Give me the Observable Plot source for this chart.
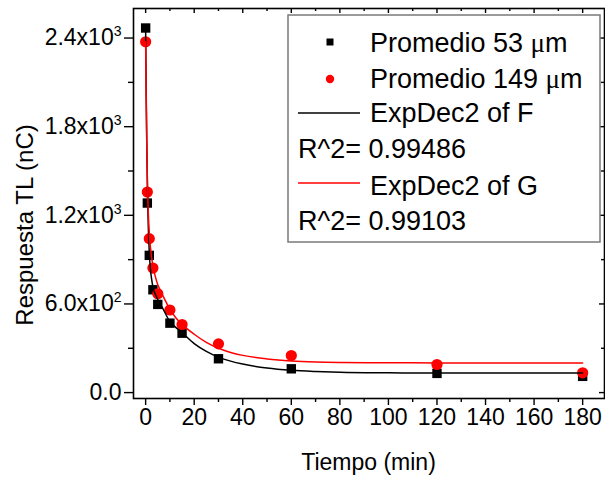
<!DOCTYPE html>
<html><head><meta charset="utf-8">
<script src="https://cdn.jsdelivr.net/npm/d3@7"></script>
<script src="https://cdn.jsdelivr.net/npm/@observablehq/plot@0.6"></script>
<style>
body{margin:0;background:#fff}
#chart{position:relative;width:605px;height:477px}
</style>
</head><body><div id="chart"></div>
<script>
// ---- data ----
const timeMin  = [0, 0.7, 1.5, 3, 5, 10, 15, 30, 60, 120, 180];
const prom53   = [2468, 1283, 929, 696, 597, 470, 402, 229, 161, 130, 110];
const prom149  = [2375, 1358, 1042, 843, 669, 559, 461, 330, 251, 190, 134];

// fitted curves (ExpDec2)
const fitX = [0, 0.25, 0.5, 0.75, 1, 1.5, 2, 2.5, 3, 4, 5, 6, 7, 10, 12.5, 15, 20, 25, 30, 35, 40, 50, 60, 70, 80, 100, 120, 150, 180];
const fitF = [2460, 2000, 1650, 1380, 1180, 950, 830, 765, 715, 665, 630, 600, 572, 480, 440, 405, 332, 279, 240, 213, 193, 166, 151, 143, 138, 134, 132, 132, 132];
const fitG = [2375, 1950, 1640, 1410, 1260, 1080, 980, 910, 860, 785, 730, 695, 660, 565, 505, 462, 395, 340, 300, 272, 252, 228, 214, 207, 204, 202, 201, 200, 200];

const xTicks = [0, 20, 40, 60, 80, 100, 120, 140, 160, 180];
const xMinor = [10, 30, 50, 70, 90, 110, 130, 150, 170];
const yTicks = [0, 600, 1200, 1800, 2400];
const yTickLabels = ["0.0", "6.0x10|2", "1.2x10|3", "1.8x10|3", "2.4x10|3"];
const yMinor = [300, 900, 1500, 2100];

const seriesNames = ["Promedio 53 ", "Promedio 149 "];
const fitNames = ["ExpDec2 of F", "ExpDec2 of G"];
const r2Labels = ["R^2= 0.99486", "R^2= 0.99103"];
const xTitle = "Tiempo (min)";
const yTitle = "Respuesta TL (nC)";

// ---- build tables ----
const pts53 = timeMin.map((t, i) => ({t, v: prom53[i]}));
const pts149 = timeMin.map((t, i) => ({t, v: prom149[i]}));
const curveF = fitX.map((t, i) => ({t, v: fitF[i]}));
const curveG = fitX.map((t, i) => ({t, v: fitG[i]}));

const W = 605, H = 477, mL = 133, mR = 1, mT = 8, mB = 79;
const fw = W - mL - mR, fh = H - mT - mB;
const FONT = "'Liberation Sans', Arial, sans-serif";

const plot = Plot.plot({
  width: W, height: H,
  marginLeft: mL, marginRight: mR, marginTop: mT, marginBottom: mB,
  style: {fontFamily: FONT, fontSize: "23px", color: "black", background: "white"},
  x: {domain: [-5, 189], label: null},
  y: {domain: [-40, 2600], label: null},
  marks: [
    // minor ticks (outside, bottom / left)
    Plot.axisX({ticks: xMinor, tickSize: 4, strokeWidth: 1.4, tickFormat: () => ""}),
    Plot.axisY({ticks: yMinor, tickSize: 5, strokeWidth: 1.4, tickFormat: () => ""}),
    // major ticks and labels
    Plot.axisX({ticks: xTicks, tickSize: 7, tickPadding: 3, strokeWidth: 1.4, tickFormat: d => String(d), fontSize: 23}),
    Plot.axisY({ticks: yTicks, tickSize: 9, tickPadding: 3, strokeWidth: 1.4,
      tickFormat: d => yTickLabels[yTicks.indexOf(d)], fontSize: 23}),
    // inward ticks on top and right
    Plot.tickX(xTicks, {x: d => d, insetBottom: fh - 5, stroke: "black", strokeWidth: 1.4}),
    Plot.tickX(xMinor, {x: d => d, insetBottom: fh - 3, stroke: "black", strokeWidth: 1.4}),
    Plot.tickY(yTicks, {y: d => d, insetLeft: fw - 5, stroke: "black", strokeWidth: 1.4}),
    Plot.tickY(yMinor, {y: d => d, insetLeft: fw - 3, stroke: "black", strokeWidth: 1.4}),
    // data
    Plot.dot(pts53, {x: "t", y: "v", symbol: "square", r: 5.3, fill: "black"}),
    Plot.dot(pts149, {x: "t", y: "v", symbol: "circle", r: 5.6, fill: "#ff0000"}),
    Plot.line(curveF, {x: "t", y: "v", stroke: "black", strokeWidth: 1.5, curve: "monotone-x"}),
    Plot.line(curveG, {x: "t", y: "v", stroke: "#ff0000", strokeWidth: 1.5, curve: "monotone-x"}),
    Plot.frame({stroke: "black", strokeWidth: 1.6})
  ]
});
document.getElementById("chart").appendChild(plot);

const svg = d3.select(plot);

// superscript exponents in y tick labels
svg.selectAll("text").each(function() {
  const el = d3.select(this);
  const s = el.text();
  const m = /^(.*x10)\|(\d)$/.exec(s);
  if (m) {
    el.text(null);
    el.append("tspan").text(m[1]);
    el.append("tspan").attr("font-size", "14px").attr("dy", "-9px").text(m[2]);
  }
});

// ---- axis titles and legend ----
svg.append("text").text(xTitle)
  .attr("x", mL + fw / 2).attr("y", 470)
  .attr("text-anchor", "middle").attr("font-size", 23).attr("font-family", FONT).attr("fill", "black");
svg.append("text").text(yTitle)
  .attr("transform", "translate(33,225) rotate(-90)")
  .attr("text-anchor", "middle").attr("font-size", 24).attr("font-family", FONT).attr("fill", "black");

const lg = svg.append("g").attr("font-family", FONT).attr("font-size", 27).attr("fill", "black").attr("text-anchor", "start");
lg.append("rect").attr("x", 288).attr("y", 15).attr("width", 312).attr("height", 227)
  .attr("fill", "white").attr("stroke", "#7a7a7a").attr("stroke-width", 1.5);
lg.append("rect").attr("x", 326.5).attr("y", 38.5).attr("width", 7).attr("height", 7).attr("fill", "black");
lg.append("circle").attr("cx", 330).attr("cy", 79).attr("r", 4.2).attr("fill", "#ff0000");
lg.append("line").attr("x1", 298).attr("x2", 360).attr("y1", 113).attr("y2", 113).attr("stroke", "black").attr("stroke-width", 1.5);
lg.append("line").attr("x1", 298).attr("x2", 360).attr("y1", 183).attr("y2", 183).attr("stroke", "#ff0000").attr("stroke-width", 1.5);
const t1 = lg.append("text").attr("x", 370).attr("y", 52);
t1.append("tspan").text(seriesNames[0]);
t1.append("tspan").attr("font-family", "'Liberation Serif', serif").text("\u03bc");
t1.append("tspan").text("m");
const t2 = lg.append("text").attr("x", 370).attr("y", 88);
t2.append("tspan").text(seriesNames[1]);
t2.append("tspan").attr("font-family", "'Liberation Serif', serif").text("\u03bc");
t2.append("tspan").text("m");
lg.append("text").attr("x", 370).attr("y", 122).text(fitNames[0]);
lg.append("text").attr("x", 298).attr("y", 158).text(r2Labels[0]);
lg.append("text").attr("x", 370).attr("y", 195).text(fitNames[1]);
lg.append("text").attr("x", 298).attr("y", 230).text(r2Labels[1]);
</script>
</body></html>
